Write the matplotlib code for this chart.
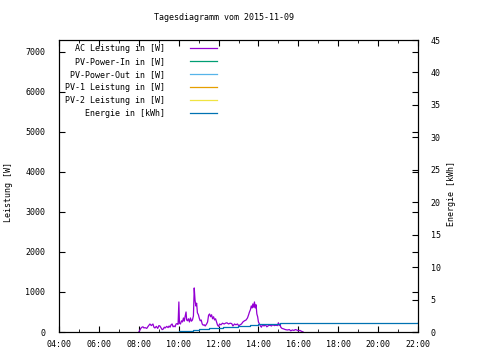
#!/usr/bin/env python3

# Tagesdiagramm (gnuplot look-alike): AC power and daily energy

import numpy as np
from matplotlib import pyplot as plt
import matplotlib

params = {
    'font.family': 'DejaVu Sans Mono',
    'font.size': 6,
    'xtick.labelsize': 6,
    'ytick.labelsize': 6,
    'legend.fontsize': 6,
    'axes.linewidth': 0.8,
    'lines.linewidth': 0.9,
}
matplotlib.rcParams.update(params)

# time in decimal hours, power in W
ac_time = [8.00, 8.05, 8.10, 8.16, 8.21, 8.26, 8.31, 8.40, 8.48, 8.56, 8.63, 8.71,
           8.76, 8.81, 8.88, 8.95, 9.01, 9.06, 9.12, 9.17, 9.22, 9.28, 9.32, 9.40,
           9.47, 9.52, 9.57, 9.62, 9.67, 9.72, 9.77, 9.82, 9.87, 9.92, 9.97, 10.01,
           10.04, 10.09, 10.14, 10.19, 10.24, 10.28, 10.32, 10.37, 10.40, 10.44,
           10.49, 10.54, 10.59, 10.64, 10.69, 10.74, 10.78, 10.82, 10.86, 10.90,
           10.94, 10.99, 11.03, 11.08, 11.13, 11.18, 11.23, 11.28, 11.33, 11.40,
           11.45, 11.50, 11.55, 11.60, 11.65, 11.70, 11.75, 11.80, 11.85, 11.90,
           11.95, 12.00, 12.05, 12.12, 12.20, 12.28, 12.35, 12.42, 12.50, 12.58,
           12.66, 12.72, 12.80, 12.87, 12.95, 13.02, 13.08, 13.15, 13.22, 13.30,
           13.38, 13.45, 13.50, 13.55, 13.60, 13.64, 13.68, 13.72, 13.76, 13.80,
           13.84, 13.88, 13.92, 13.96, 14.00, 14.05, 14.10, 14.15, 14.20, 14.28,
           14.35, 14.42, 14.50, 14.58, 14.65, 14.72, 14.80, 14.88, 14.95, 15.00,
           15.04, 15.08, 15.12, 15.18, 15.25, 15.35, 15.45, 15.55, 15.62, 15.70,
           15.78, 15.85, 15.92, 16.00, 16.08, 16.15, 16.24]
ac_power = [0, 40, 90, 120, 130, 100, 110, 90, 150, 200, 160, 200,
            120, 100, 140, 90, 160, 150, 100, 60, 70, 120, 100, 140,
            110, 150, 120, 180, 200, 130, 150, 130, 200, 210, 190, 750,
            220, 200, 280, 250, 350, 270, 380, 500, 300, 280,
            330, 250, 350, 270, 300, 400, 1100, 800, 650, 720,
            480, 430, 350, 280, 300, 200, 170, 180, 150, 200,
            250, 420, 450, 380, 430, 330, 380, 300, 330, 250,
            170, 140, 200, 180, 220, 200, 220, 230, 200, 220,
            210, 150, 200, 180, 200, 150, 180, 200, 250, 280,
            300, 350, 420, 500, 560, 650, 600, 700, 620, 750,
            600, 680, 450, 380, 250, 200, 150, 120, 180, 150,
            180, 130, 160, 170, 150, 180, 160, 170, 160, 230,
            160, 200, 120, 90, 80, 60, 50, 60, 30, 50,
            40, 60, 50, 30, 40, 20, 0]

# no data for these series on this day
pv_in_time, pv_in_power = [], []
pv_out_time, pv_out_power = [], []
pv1_time, pv1_power = [], []
pv2_time, pv2_power = [], []

# cumulative energy in kWh
energy_time = [9.0, 10.0, 10.7, 11.0, 11.5, 12.2, 12.95, 13.6, 14.0, 15.1, 22.0]
energy_kwh = [0.0, 0.1, 0.25, 0.4, 0.55, 0.8, 0.95, 1.1, 1.25, 1.4, 1.5]

hour_ticks = list(range(4, 23, 2))
hour_labels = ["%02d:00" % h for h in hour_ticks]

fig = plt.figure(figsize=(4.8, 3.6), dpi=100)
ax = fig.add_axes([59/480, 28/360, 359/480, 292/360])

ax.plot(ac_time, ac_power, color='#9400d3', label='AC Leistung in [W]')
ax.plot(pv_in_time, pv_in_power, color='#009e73', label='PV-Power-In in [W]')
ax.plot(pv_out_time, pv_out_power, color='#56b4e9', label='PV-Power-Out in [W]')
ax.plot(pv1_time, pv1_power, color='#e69f00', label='PV-1 Leistung in [W]')
ax.plot(pv2_time, pv2_power, color='#f0e442', label='PV-2 Leistung in [W]')

ax2 = ax.twinx()
ax2.plot(energy_time, energy_kwh, color='#0072b2', drawstyle='steps-post',
         label='Energie in [kWh]')

ax.set_xlim(4, 22)
ax.set_ylim(0, 7290)
ax2.set_ylim(0, 45)

ax.set_xticks(hour_ticks)
ax.set_xticklabels(hour_labels)
ax.set_xticks(range(4, 23), minor=True)
ax.set_yticks(range(0, 7001, 1000))
ax.set_yticklabels(["0"] + [str(v) for v in range(1000, 7001, 1000)])
ax2.set_yticks(range(0, 46, 5))

ax.tick_params(which='both', direction='in', top=True, right=True)
ax.tick_params(axis='x', which='major', length=4, pad=6)
ax.tick_params(axis='x', which='minor', length=2.5)
ax.tick_params(axis='y', which='major', length=4, pad=10, labelright=False)
ax2.tick_params(direction='in', length=4, pad=9)

fig.text(223.5/480, 1 - 18/360, "Tagesdiagramm vom 2015-11-09",
         ha='center', va='center')
fig.text(9/480, 1 - 192/360, "Leistung [W]", rotation=90,
         ha='center', va='center')
fig.text(452/480, 1 - 194/360, "Energie [kWh]", rotation=90,
         ha='center', va='center')

h1, l1 = ax.get_legend_handles_labels()
h2, l2 = ax2.get_legend_handles_labels()
leg = ax2.legend(h1 + h2, l1 + l2, loc='upper left', bbox_to_anchor=(0.006, 1.0),
                 frameon=False, markerfirst=False, handlelength=3.3,
                 handletextpad=3.0, labelspacing=0.48, borderaxespad=0.05)
# gnuplot style: labels right-aligned against the sample lines
for col in leg._legend_handle_box.get_children():
    col.align = 'right'

plt.savefig("out.png", dpi=100)
